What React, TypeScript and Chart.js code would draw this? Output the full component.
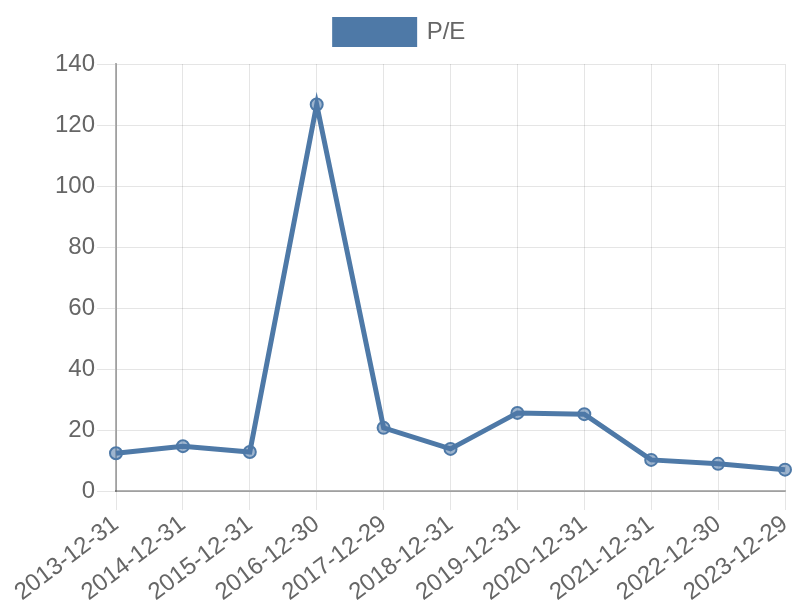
import React, { useEffect, useRef } from "react";
import { Chart, registerables } from "chart.js";

Chart.register(...registerables);

const categories = [
  "2013-12-31", "2014-12-31", "2015-12-31", "2016-12-30", "2017-12-29",
  "2018-12-31", "2019-12-31", "2020-12-31", "2021-12-31", "2022-12-30", "2023-12-29",
];
const peValues = [12.4, 14.7, 12.8, 126.7, 20.7, 13.8, 25.6, 25.2, 10.2, 8.9, 7.0];
const seriesLabel = "P/E";

export default function App() {
  const ref = useRef<HTMLCanvasElement | null>(null);
  useEffect(() => {
    document.body.style.margin = "0";
    const ctx = ref.current;
    if (!ctx) return;
    const color = "rgb(78,121,167)";
    const fam = "'Liberation Sans', Arial, sans-serif";
    const chart = new Chart(ctx, {
      type: "line",
      data: {
        labels: categories,
        datasets: [
          {
            label: seriesLabel,
            data: peValues,
            borderColor: color,
            backgroundColor: color,
            pointBackgroundColor: "rgba(78,121,167,0.55)",
            pointBorderColor: color,
            pointBorderWidth: 2,
            pointRadius: 6,
            borderWidth: 5,
            tension: 0,
            fill: false,
          },
        ],
      },
      options: {
        animation: false,
        responsive: false,
        maintainAspectRatio: false,
        layout: { padding: 0 },
        plugins: {
          legend: {
            labels: {
              boxWidth: 80,
              boxHeight: 25,
              padding: 19.5,
              color: "#666",
              font: { size: 24, family: fam },
            },
          },
          subtitle: {
            display: true,
            text: "",
            weight: 500,
            padding: 0,
            font: { size: 9.5, lineHeight: 1 },
          } as any,
          tooltip: { enabled: false },
        },
        scales: {
          x: {
            grid: { color: "rgba(0,0,0,0.1)", tickLength: 19 },
            border: { color: "rgba(0,0,0,0.3)", width: 2 },
            ticks: {
              color: "#666",
              padding: 0,
              maxRotation: 37,
              minRotation: 37,
              font: { size: 24, family: fam },
            },
            afterFit: (scale: any) => {
              scale.height = 109;
              scale.paddingLeft = 116;
              scale.paddingRight = 15;
            },
          },
          y: {
            min: 0,
            max: 140,
            grid: { color: "rgba(0,0,0,0.1)", tickLength: 19 },
            border: { color: "rgba(0,0,0,0.3)", width: 2 },
            ticks: {
              stepSize: 20,
              padding: 2,
              color: "#666",
              font: { size: 24, family: fam },
            },
          },
        },
      },
    });
    return () => chart.destroy();
  }, []);
  return (
    <div style={{ width: 800, height: 600 }}>
      <canvas ref={ref} width={800} height={600} />
    </div>
  );
}
